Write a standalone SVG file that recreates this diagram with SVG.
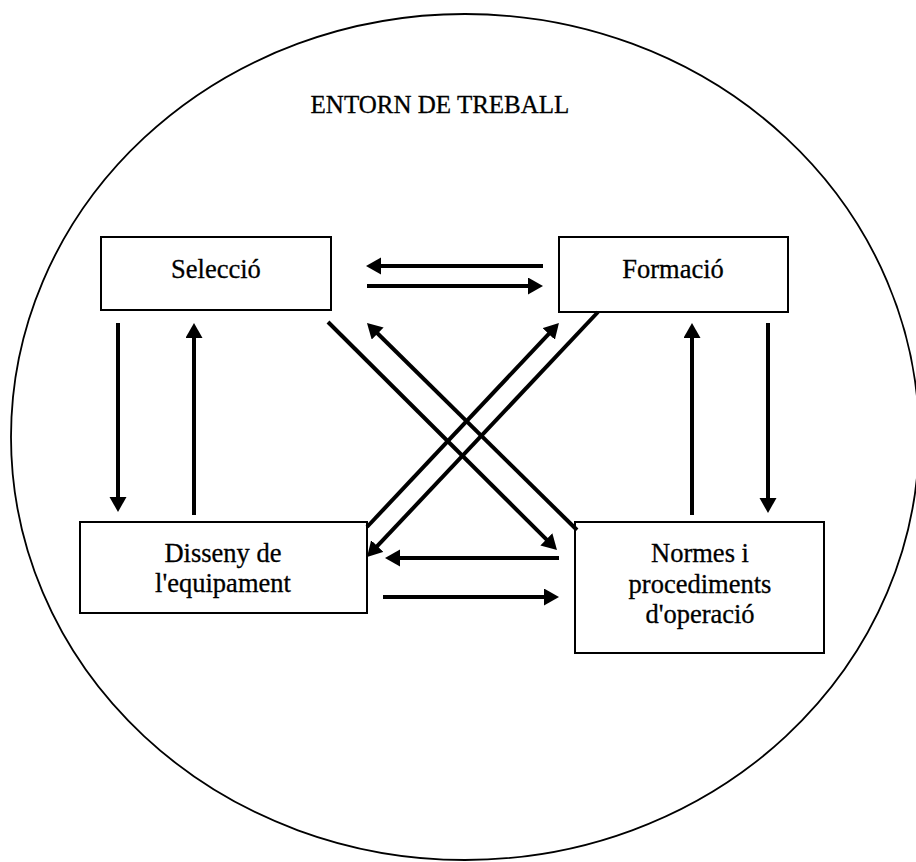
<svg xmlns="http://www.w3.org/2000/svg" width="916" height="862" viewBox="0 0 916 862">
<style>
  .bg { fill: #ffffff; }
  .frame { fill: none; stroke: #000; stroke-width: 1.8; }
  .box { fill: #ffffff; stroke: #000; stroke-width: 2; }
  .lbl { font-family: "Liberation Serif", "Times New Roman", serif; font-size: 26.5px; fill: #000; stroke: #000; stroke-width: 0.3; text-anchor: middle; }
  .title { font-size: 25px; }
  .arr { stroke: #000; stroke-width: 4; fill: none; marker-end: url(#ah); }
</style>
<defs>
  <marker id="ah" markerUnits="userSpaceOnUse" markerWidth="16" markerHeight="18" refX="5" refY="8.5" orient="auto">
    <path d="M0,0 L15,8.5 L0,17 z" fill="#000"/>
  </marker>
</defs>
<rect class="bg" x="0" y="0" width="916" height="862"/>
<ellipse class="frame" cx="465" cy="437" rx="454" ry="423"/>
<text class="lbl title" x="440" y="113">ENTORN DE TREBALL</text>

<g id="seleccio">
  <rect class="box" x="101" y="237" width="230" height="73"/>
  <text class="lbl" x="216" y="278">Selecció</text>
</g>
<g id="formacio">
  <rect class="box" x="559" y="237" width="229" height="75"/>
  <text class="lbl" x="673" y="278">Formació</text>
</g>
<g id="disseny">
  <rect class="box" x="80" y="522" width="287" height="91"/>
  <text class="lbl" x="223" y="562">Disseny de</text>
  <text class="lbl" x="223" y="592">l'equipament</text>
</g>
<g id="normes">
  <rect class="box" x="575" y="522" width="249" height="131"/>
  <text class="lbl" x="700" y="562">Normes i</text>
  <text class="lbl" x="700" y="593">procediments</text>
  <text class="lbl" x="700" y="623">d'operació</text>
</g>

<g id="connectors">
  <line class="arr" x1="543" y1="266" x2="376" y2="266"/>
  <line class="arr" x1="367" y1="286" x2="533" y2="286"/>
  <line class="arr" x1="118" y1="323" x2="118" y2="502"/>
  <line class="arr" x1="194" y1="515" x2="194" y2="333"/>
  <line class="arr" x1="692" y1="515" x2="692" y2="333"/>
  <line class="arr" x1="768" y1="323" x2="768" y2="503"/>
  <line class="arr" x1="559" y1="558" x2="395" y2="558"/>
  <line class="arr" x1="383" y1="597" x2="549" y2="597"/>
  <line class="arr" x1="328" y1="322" x2="549.9" y2="542.9"/>
  <line class="arr" x1="577" y1="530" x2="374.1" y2="330"/>
  <line class="arr" x1="367" y1="527" x2="552.1" y2="330.3"/>
  <line class="arr" x1="598" y1="312" x2="373.9" y2="549.7"/>
</g>
</svg>
